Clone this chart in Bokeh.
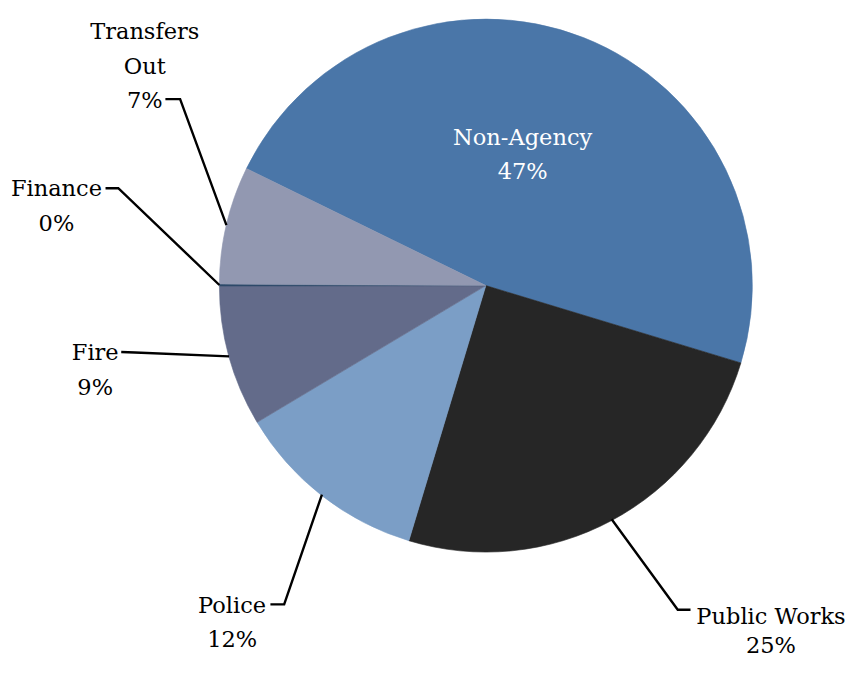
import math
from bokeh.plotting import figure
from bokeh.models import Range1d, ColumnDataSource
from bokeh.core.properties import value
from bokeh.embed import file_html
from bokeh.resources import INLINE

# ---------------- data ----------------
categories = ["Non-Agency", "Public Works", "Police", "Fire", "Finance", "Transfers Out"]
shares = [47.45, 24.98, 11.76, 8.55, 0.12, 7.14]
colors = ["#4A76A8", "#262626", "#7B9EC6", "#636B8A", "#2E4A6A", "#9298B1"]
# how each category name is broken over lines in its label
label_names = [["Non-Agency"], ["Public Works"], ["Police"], ["Fire"], ["Finance"], ["Transfers", "Out"]]

# ---------------- layout (reference pixel coords, y downwards) ----------------
REF_W, REF_H = 866, 677
CX, CY, R = 494.5, 292.0, 271.5
START_DEG = 153.95
FONT = "DejaVu Serif"
FONT_SIZE = "22.5px"
# label centre x, first baseline y, line step
label_pos = [(532, 139.5, 35), (785, 630, 30), (236, 619, 35), (96.5, 360.5, 35),
             (57, 192.5, 35), (147, 31.7, 35)]
label_color = ["white", "black", "black", "black", "black", "black"]
# leader lines: (label end point, elbow point) ; None for inside label
leaders = [None,
           ((703, 624), (690, 624)),
           ((275, 618.5), (289, 618.5)),
           ((123, 360), (137, 360.5)),
           ((107, 192.3), (120, 192.3)),
           ((168, 101), (183, 101))]


def Y(img_y):
    return REF_H - img_y


total = sum(shares)
starts, ends, mids = [], [], []
a = START_DEG
for s in shares:
    sweep = s / total * 360.0
    starts.append(a)
    ends.append(a - sweep)
    mids.append(a - sweep / 2)
    a -= sweep

p = figure(width=850, height=661, x_range=Range1d(0, REF_W), y_range=Range1d(0, REF_H),
           output_backend="svg", toolbar_location=None, min_border=0,
           x_axis_location=None, y_axis_location=None)
p.grid.visible = False
p.outline_line_color = None
p.background_fill_color = "white"
p.border_fill_color = "white"

src = ColumnDataSource(dict(cat=categories, start=starts, end=ends, color=colors))
p.wedge(x=CX, y=Y(CY), radius=R, start_angle="start", end_angle="end",
        start_angle_units="deg", end_angle_units="deg", direction="clock",
        fill_color="color", line_color="color", line_width=0.6, source=src)

# leader lines
for i, ld in enumerate(leaders):
    if ld is None:
        continue
    m = math.radians(mids[i])
    ax = CX + R * math.cos(m)
    ay = CY - R * math.sin(m)
    (ex, ey), (kx, ky) = ld
    p.line([ex, kx, ax], [Y(ey), Y(ky), Y(ay)], line_color="black", line_width=2.4,
           line_join="miter")

# labels
tx, ty, tt, tc = [], [], [], []
for i, cat in enumerate(categories):
    pct = f"{shares[i] / total * 100:.0f}%"
    lines = label_names[i] + [pct]
    x0, y0, step = label_pos[i]
    for k, ln in enumerate(lines):
        tx.append(x0)
        ty.append(Y(y0 + k * step))
        tt.append(ln)
        tc.append(label_color[i])

p.text(x=tx, y=ty, text=tt, text_color=tc, text_font=value(FONT), text_font_size=FONT_SIZE,
       text_align="center", text_baseline="alphabetic")

open("out.html", "w").write(file_html(p, INLINE))
